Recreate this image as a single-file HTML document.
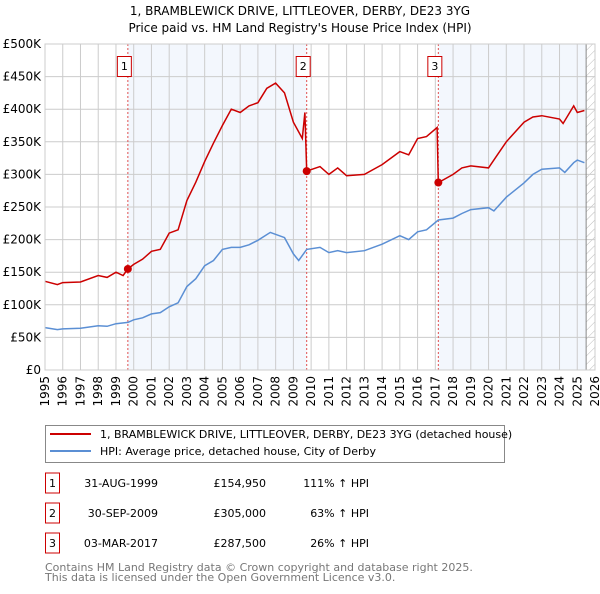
<!DOCTYPE html>
<html><head><meta charset="utf-8"><style>
body{margin:0;background:#fff;width:600px;height:590px;overflow:hidden;font-family:"DejaVu Sans","Liberation Sans",sans-serif;}
svg text{font-family:"DejaVu Sans","Liberation Sans",sans-serif;}
</style></head><body>
<svg id="c" width="600" height="590">
<defs><pattern id="hatch" width="6" height="6" patternUnits="userSpaceOnUse" patternTransform="rotate(45)"><line x1="0" y1="0" x2="0" y2="6" stroke="#bbb" stroke-width="1"/></pattern></defs>
<text x="300" y="15" text-anchor="middle" font-size="12">1, BRAMBLEWICK DRIVE, LITTLEOVER, DERBY, DE23 3YG</text>
<text x="300" y="32" text-anchor="middle" font-size="12">Price paid vs. HM Land Registry's House Price Index (HPI)</text>
<g id="plot"></g>
<rect x="45.5" y="425.5" width="459" height="37" fill="#fff" stroke="#888"/>
<line x1="50" y1="434" x2="91" y2="434" stroke="#cc0000" stroke-width="2"/>
<text x="100" y="438" font-size="11">1, BRAMBLEWICK DRIVE, LITTLEOVER, DERBY, DE23 3YG (detached house)</text>
<line x1="50" y1="451" x2="91" y2="451" stroke="#5b8fd4" stroke-width="2"/>
<text x="100" y="455" font-size="11">HPI: Average price, detached house, City of Derby</text>
<g id="tbl" font-size="11"></g>
<text x="45" y="571" font-size="11" fill="#777">Contains HM Land Registry data © Crown copyright and database right 2025.</text>
<text x="45" y="581" font-size="11" fill="#777">This data is licensed under the Open Government Licence v3.0.</text>
</svg>
<script>
const yTicks=[0,50,100,150,200,250,300,350,400,450,500];
const yLabels=["£0","£50K","£100K","£150K","£200K","£250K","£300K","£350K","£400K","£450K","£500K"];
const years=[1995,1996,1997,1998,1999,2000,2001,2002,2003,2004,2005,2006,2007,2008,2009,2010,2011,2012,2013,2014,2015,2016,2017,2018,2019,2020,2021,2022,2023,2024,2025,2026];
const hpiT=[1995,1995.7,1996,1997,1998,1998.5,1999,1999.67,2000,2000.5,2001,2001.5,2002,2002.5,2003,2003.5,2004,2004.5,2005,2005.5,2006,2006.5,2007,2007.7,2008.5,2009,2009.3,2009.75,2010.5,2011,2011.5,2012,2013,2014,2015,2015.5,2016,2016.5,2017.17,2018,2018.5,2019,2020,2020.3,2021,2022,2022.5,2023,2024,2024.3,2024.8,2025,2025.4];
const hpiV=[65,62,63,64,68,67,71,73,77,80,86,88,97,103,128,140,160,168,185,188,188,192,199,211,203,178,168,185,188,180,183,180,183,193,206,200,212,215,230,233,240,246,249,244,265,287,300,308,310,303,318,322,318];
const redT=[1995,1995.7,1996,1997,1998,1998.5,1999,1999.4,1999.67,2000,2000.5,2001,2001.5,2002,2002.5,2003,2003.5,2004,2004.5,2005,2005.5,2006,2006.5,2007,2007.5,2008,2008.5,2009,2009.5,2009.65,2009.75,2010.5,2011,2011.5,2012,2013,2014,2015,2015.5,2016,2016.5,2017.1,2017.17,2018,2018.5,2019,2020,2020.5,2021,2022,2022.5,2023,2024,2024.2,2024.8,2025,2025.4];
const redV=[136,131,134,135,145,142,150,145,155,162,170,182,185,210,215,260,288,320,348,375,400,395,405,410,432,440,425,380,355,395,305,312,300,310,298,300,315,335,330,355,358,372,287.5,300,310,313,310,330,350,380,388,390,385,378,405,395,398];
const saleT=[1999.67,2009.75,2017.17];
const saleV=[154.95,305,287.5];
const saleLbl=["1","2","3"];
const saleDate=["31-AUG-1999","30-SEP-2009","03-MAR-2017"];
const salePrice=["£154,950","£305,000","£287,500"];
const saleHpi=["111% ↑ HPI","63% ↑ HPI","26% ↑ HPI"];
const X0=45,X1=595,Y0=370,Y1=44;
const xs=t=>X0+(t-1995)/(2026-1995)*(X1-X0);
const ys=v=>Y0-v/500*(Y0-Y1);
const NS="http://www.w3.org/2000/svg";
const P=document.getElementById('plot');
function mk(tag,at,parent){const e=document.createElementNS(NS,tag);for(const k in at)e.setAttribute(k,at[k]);(parent||P).appendChild(e);return e;}
let r=mk('rect',{x:X0,y:Y1,width:X1-X0,height:Y0-Y1,fill:'#fff'});


r=mk('rect',{x:xs(saleT[0]),y:Y1,width:xs(saleT[1])-xs(saleT[0]),height:Y0-Y1,fill:'#eef3fc',opacity:0.7});


r=mk('rect',{x:xs(saleT[2]),y:Y1,width:xs(2025.5)-xs(saleT[2]),height:Y0-Y1,fill:'#eef3fc',opacity:0.7});


r=mk('rect',{x:xs(2025.5),y:Y1,width:X1-xs(2025.5),height:Y0-Y1,fill:'url(#hatch)'});


yTicks.forEach((v,i)=>{
 let l=mk('line',{x1:X0,x2:X1,y1:ys(v),y2:ys(v),stroke:'#ccc'});
 
 
 let t=mk('text',{x:X0-4,y:ys(v)+4,'text-anchor':'end','font-size':12});
 
 
 t.textContent=yLabels[i];
});
years.forEach(y=>{
 let l=mk('line',{x1:xs(y),x2:xs(y),y1:Y1,y2:Y0,stroke:'#ccc'});
 
 
 let t=mk('text',{x:0,y:0,'font-size':12,'text-anchor':'end',transform:`translate(${xs(y)+4},${Y0+6}) rotate(-90)`});
 
 
 t.textContent=y;
});
let v=mk('line',{x1:xs(2025.5),x2:xs(2025.5),y1:Y1,y2:Y0,stroke:'#888'});


saleT.forEach((t,i)=>{
 let l=mk('line',{x1:xs(t),x2:xs(t),y1:Y1,y2:Y0,stroke:'#e05050','stroke-dasharray':'2,2'});
 
 
 let b=mk('rect',{x:xs(t)-10.5,y:56.5,width:14,height:20,fill:'#fff',stroke:'#cc0000'});
 
 
 let tx=mk('text',{x:xs(t)-3.5,y:70,'text-anchor':'middle','font-size':11});
 
 
 tx.textContent=saleLbl[i];
});
function path(T,V){return T.map((t,i)=>(i?'L':'M')+xs(t).toFixed(1)+','+ys(V[i]).toFixed(1)).join('');}
let h=mk('path',{d:path(hpiT,hpiV),fill:'none',stroke:'#5b8fd4','stroke-width':1.5});


let rl=mk('path',{d:path(redT,redV),fill:'none',stroke:'#cc0000','stroke-width':1.5});


saleT.forEach((t,i)=>{
 let c=mk('circle',{cx:xs(t),cy:ys(saleV[i]),r:4,fill:'#cc0000'});
 
 
});
let fr=mk('rect',{x:X0,y:Y1,width:X1-X0,height:Y0-Y1,fill:'none',stroke:'#ccc'});


const TB=document.getElementById('tbl');
saleT.forEach((t,i)=>{
 const y=483+i*30;
 let b=mk('rect',{x:45.5,y:y-10,width:14,height:20,fill:'#fff',stroke:'#cc0000'},TB);
 
 
 const cells=[[52.5,'middle',saleLbl[i]],[158,'end',saleDate[i]],[266,'end',salePrice[i]],[369,'end',saleHpi[i]]];
 cells.forEach(c=>{
  let tx=mk('text',{x:c[0],y:y+4,'text-anchor':c[1]},TB);
  
  
  tx.textContent=c[2];
 });
});
</script>
</body></html>
